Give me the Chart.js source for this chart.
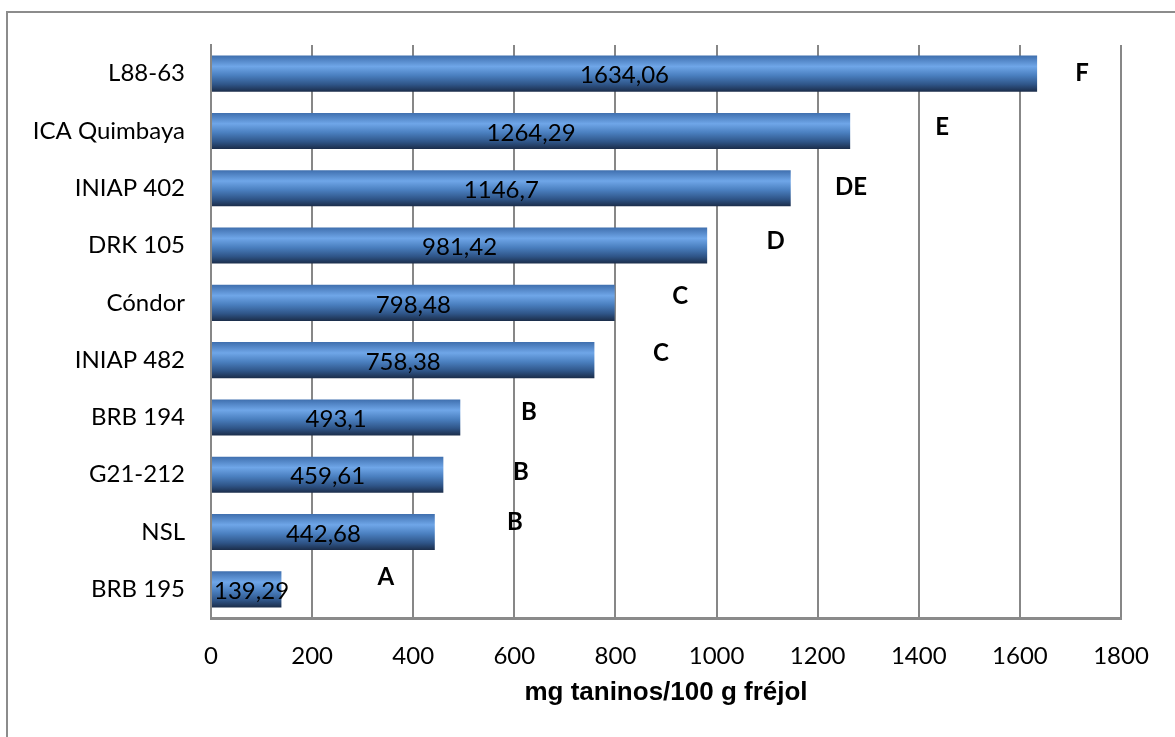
<!DOCTYPE html>
<html>
<head>
<meta charset="utf-8">
<script src="https://cdn.jsdelivr.net/npm/chart.js@4.4.0/dist/chart.umd.min.js"></script>
<style>
  html, body { margin: 0; padding: 0; background: #fff; overflow: hidden; }
  #frame { position: absolute; left: 6px; top: 11px; width: 1300px; height: 900px; border: 2px solid #8c8c8c; }
  #wrap { position: absolute; left: 0; top: 0; width: 1175px; height: 737px; }
</style>
</head>
<body>
<div id="frame"></div>
<div id="wrap"><canvas id="myChart" width="1175" height="737"></canvas></div>
<script>
/* ================================
   Taninos por variedad de fréjol
================================ */
var varieties = ['L88-63', 'ICA Quimbaya', 'INIAP 402', 'DRK 105', 'Cóndor',
  'INIAP 482', 'BRB 194', 'G21-212', 'NSL', 'BRB 195'];
var taninos = [1634.06, 1264.29, 1146.7, 981.42, 798.48, 758.38, 493.1, 459.61, 442.68, 139.29];
var letters = ['F', 'E', 'DE', 'D', 'C', 'C', 'B', 'B', 'B', 'A'];
var xTicks = [0, 200, 400, 600, 800, 1000, 1200, 1400, 1600, 1800];

// where the significance letters sit (x in mg, y shift in rows)
var letterX = [1723, 1446, 1266, 1117, 928, 890, 629, 613, 601, 346];
var letterShift = [0, -0.07, -0.02, -0.07, -0.12, -0.12, -0.09, -0.05, -0.17, -0.21];

const labelFont = 'Lato, "Open Sans", sans-serif';

// bevel-like gradient for each bar
function barGradient(c) {
  const chart = c.chart;
  const ys = chart.scales.y;
  if (!ys || c.type !== 'data') return '#4f81bd';
  const yc = ys.getPixelForValue(c.dataIndex);
  const h = (ys.height / varieties.length) * 0.63;
  if (!isFinite(yc) || !isFinite(h) || h <= 0) return '#4f81bd';
  const g = chart.ctx.createLinearGradient(0, yc - h / 2, 0, yc + h / 2);
  g.addColorStop(0, '#3f6fae');
  g.addColorStop(0.3, '#6fa6e8');
  g.addColorStop(0.55, '#4a7fbf');
  g.addColorStop(0.8, '#2f5588');
  g.addColorStop(1, '#1b2d4a');
  return g;
}

const barLabels = {
  id: 'barLabels',
  afterDatasetsDraw(chart) {
    const ctx = chart.ctx;
    const meta = chart.getDatasetMeta(0);
    const xs = chart.scales.x;
    const ys = chart.scales.y;
    ctx.save();
    ctx.fillStyle = '#000';
    ctx.textBaseline = 'middle';
    ctx.font = '24px ' + labelFont;
    meta.data.forEach((bar, i) => {
      const txt = String(taninos[i]).replace('.', ',');
      const w = ctx.measureText(txt).width;
      if (w > bar.x - bar.base) {
        // too wide for the bar: start just inside it
        ctx.textAlign = 'left';
        ctx.fillText(txt, bar.base + 2, bar.y + 2);
      } else {
        ctx.textAlign = 'center';
        ctx.fillText(txt, (bar.x + bar.base) / 2, bar.y + 2);
      }
    });
    ctx.textAlign = 'center';
    ctx.font = 'bold 24px ' + labelFont;
    letters.forEach((l, i) => {
      ctx.fillText(l, xs.getPixelForValue(letterX[i]), ys.getPixelForValue(i + letterShift[i]));
    });
    ctx.restore();
  }
};

const myChartBar = new Chart(document.getElementById('myChart'), {
  type: 'bar',
  data: {
    labels: varieties,
    datasets: [{
      data: taninos,
      backgroundColor: barGradient,
      borderWidth: 0,
      categoryPercentage: 1,
      barPercentage: 0.63
    }]
  },
  options: {
    indexAxis: 'y',
    responsive: false,
    animation: false,
    layout: { padding: { left: 0, top: 45, right: 54, bottom: 19 } },
    plugins: {
      legend: { display: false },
      tooltip: { enabled: false }
    },
    scales: {
      x: {
        min: 0,
        max: 1800,
        afterBuildTicks: (s) => { s.ticks = xTicks.map(v => ({ value: v })); },
        afterFit: (s) => { s.height = 100; },
        grid: { color: '#878787', lineWidth: 2, drawTicks: false },
        border: { color: '#8a8a8a', width: 3 },
        ticks: {
          color: '#000',
          padding: 24,
          font: { family: labelFont, size: 24 },
          callback: (v) => String(v)
        },
        title: {
          display: true,
          text: 'mg taninos/100 g fréjol',
          color: '#000',
          padding: { top: 0, bottom: 10 },
          font: { family: '"Liberation Sans", Arial, sans-serif', size: 26, weight: 'bold' }
        }
      },
      y: {
        afterFit: (s) => { s.width = 211; },
        grid: { display: false, drawTicks: false },
        border: { color: '#878787', width: 2 },
        ticks: { color: '#000', padding: 26, font: { family: labelFont, size: 24 } }
      }
    }
  },
  plugins: [barLabels]
});
</script>
</body>
</html>
